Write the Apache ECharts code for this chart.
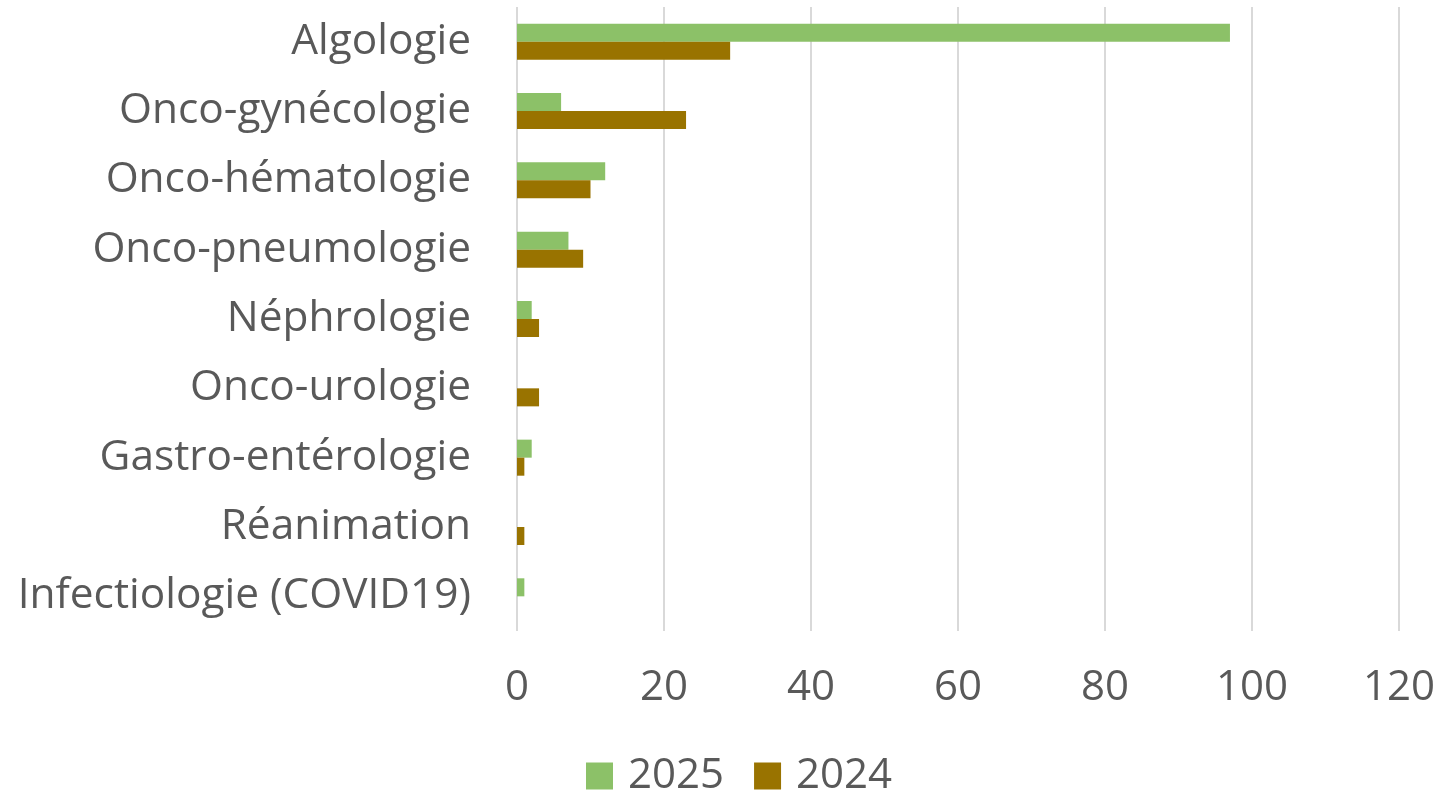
<!DOCTYPE html>
<html>
<head>
<meta charset="utf-8">
<script src="https://cdn.jsdelivr.net/npm/echarts@6/dist/echarts.min.js"></script>
<style>
html, body { margin: 0; padding: 0; background: #fff; }
#main { width: 1440px; height: 792px; }
</style>
</head>
<body>
<div id="main"></div>
<script>
var categories = ['Algologie', 'Onco-gynécologie', 'Onco-hématologie', 'Onco-pneumologie', 'Néphrologie',
	'Onco-urologie', 'Gastro-entérologie', 'Réanimation', 'Infectiologie (COVID19)'];
var values2025 = [97, 6, 12, 7, 2, 0, 2, 0, 1];
var values2024 = [29, 23, 10, 9, 3, 3, 1, 1, 0];
var xTicks = [0, 20, 40, 60, 80, 100, 120];

var myChart = echarts.init(document.getElementById('main'));
var textColor = '#595959';
var fontName = 'Open Sans';

var option = {
	animation: false,
	textStyle: { fontFamily: fontName },
	legend: {
		data: ['2025', '2024'],
		left: 581,
		top: 750,
		itemWidth: 27,
		itemHeight: 27,
		itemGap: 30,
		icon: 'rect',
		textStyle: { color: textColor, fontSize: 42, fontFamily: fontName, padding: [0, 0, 0, 10] }
	},
	grid: {
		left: 517,
		right: 41,
		top: 7,
		bottom: 161
	},
	xAxis: {
		type: 'value',
		min: xTicks[0],
		max: xTicks[xTicks.length - 1],
		interval: 20,
		axisLine: { show: false },
		axisTick: { show: false },
		splitLine: { lineStyle: { color: '#d9d9d9', width: 2 } },
		axisLabel: { color: textColor, fontSize: 42, margin: 36, fontFamily: fontName }
	},
	yAxis: {
		type: 'category',
		data: categories,
		inverse: true,
		axisLine: { show: false },
		axisTick: { show: false },
		axisLabel: { color: textColor, fontSize: 42.4, margin: 46, fontFamily: fontName }
	},
	series: [
		{
			name: '2025',
			type: 'bar',
			data: values2025,
			barGap: '0%',
			barCategoryGap: '48%',
			itemStyle: { color: '#8cc168' }
		},
		{
			name: '2024',
			type: 'bar',
			data: values2024,
			barGap: '0%',
			barCategoryGap: '48%',
			itemStyle: { color: '#997300' }
		}
	]
};

myChart.setOption(option);
</script>
</body>
</html>
